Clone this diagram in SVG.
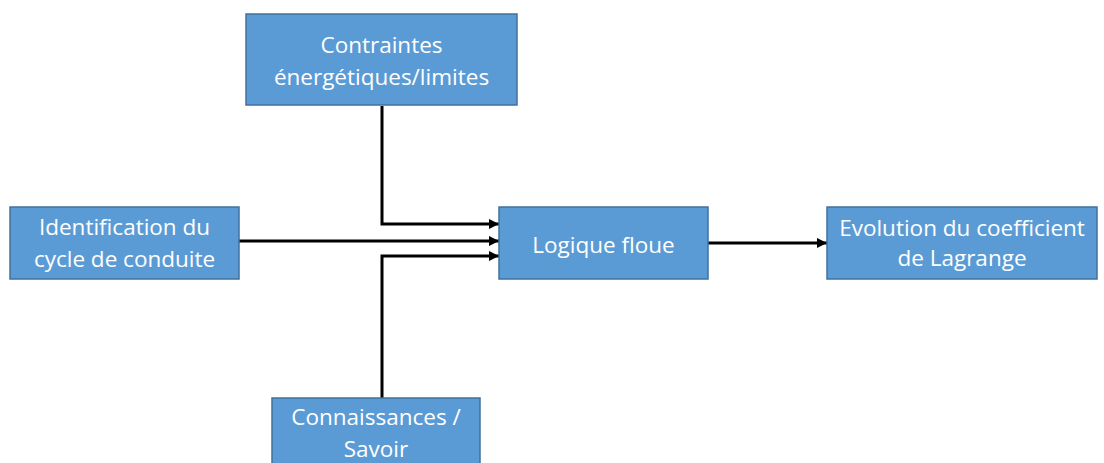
<svg xmlns="http://www.w3.org/2000/svg" width="1104" height="463" viewBox="0 0 1104 463">
<defs>
<style>
.box{fill:#5B9BD5;stroke:#41719C;stroke-width:1.5}
.t{fill:#fff;font-family:"Open Sans","Liberation Sans",Arial,sans-serif;font-size:22.5px;text-anchor:middle}
.c{fill:none;stroke:#000;stroke-width:3}
</style>
<marker id="ah" viewBox="0 0 10 10" refX="10" refY="5" markerWidth="11" markerHeight="10" markerUnits="userSpaceOnUse" orient="auto">
<path d="M0,0 L10,5 L0,10 Z" fill="#000"/>
</marker>
</defs>
<rect width="1104" height="463" fill="#fff"/>
<g id="connectors">
<path class="c" d="M382,106 V224 H499" marker-end="url(#ah)"/>
<path class="c" d="M239,241 H499" marker-end="url(#ah)"/>
<path class="c" d="M382,398 V256 H499" marker-end="url(#ah)"/>
<path class="c" d="M708,243 H827" marker-end="url(#ah)"/>
</g>
<g id="contraintes">
<rect class="box" x="246" y="14" width="271" height="91"/>
<text class="t" x="381.5" y="53">Contraintes</text>
<text class="t" x="381.5" y="85">énergétiques/limites</text>
</g>
<g id="identification">
<rect class="box" x="10" y="207" width="229" height="72"/>
<text class="t" x="124.5" y="235">Identification du</text>
<text class="t" x="124.5" y="267">cycle de conduite</text>
</g>
<g id="logique">
<rect class="box" x="499" y="207" width="209" height="72"/>
<text class="t" x="603.5" y="253">Logique floue</text>
</g>
<g id="evolution">
<rect class="box" x="827" y="207" width="270" height="72"/>
<text class="t" x="962" y="236">Evolution du coefficient</text>
<text class="t" x="962" y="266">de Lagrange</text>
</g>
<g id="connaissances">
<rect class="box" x="272" y="398" width="208" height="75"/>
<text class="t" x="376" y="425">Connaissances /</text>
<text class="t" x="376" y="457">Savoir</text>
</g>
</svg>
